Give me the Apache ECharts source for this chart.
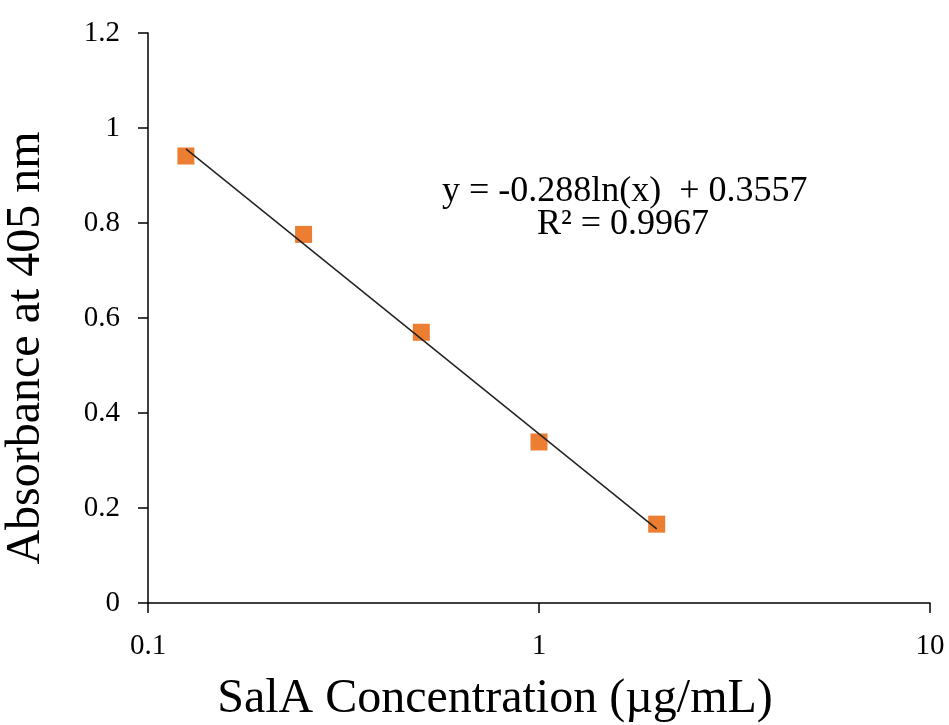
<!DOCTYPE html>
<html>
<head>
	<meta charset="utf-8">
	<title>SalA standard curve</title>
	<style>
		html, body { margin: 0; padding: 0; background: #fff; }
		#container { width: 949px; height: 725px; }
	</style>
</head>
<body>
	<div id="container"></div>
	<script src="https://cdn.jsdelivr.net/npm/echarts@6/dist/echarts.min.js"></script>
	<script type="text/javascript">
		'use strict'

		// measured points (concentration, absorbance)
		var concentration = [0.125, 0.25, 0.5, 1, 2];
		var absorbance = [0.941, 0.776, 0.570, 0.339, 0.166];
		// log trendline end points
		var trendX = [0.125, 2];
		var trendY = [0.956, 0.156];
		var yTicks = [0, 0.2, 0.4, 0.6, 0.8, 1, 1.2];
		var xTicks = [0.1, 1, 10];

		var fontFamily = '"Liberation Serif", "Times New Roman", serif';

		var points = concentration.map(function (c, i) { return [c, absorbance[i]]; });
		var trend = trendX.map(function (c, i) { return [c, trendY[i]]; });

		var myCharts = echarts.init(document.getElementById('container'));
		var option = {
			animation: false,
			backgroundColor: '#fff',
			grid: { left: 148, right: 19, top: 33, bottom: 122, outerBoundsMode: 'none', containLabel: false },
			xAxis: {
				type: 'log',
				logBase: 10,
				min: xTicks[0],
				max: xTicks[xTicks.length - 1],
				name: 'SalA Concentration (µg/mL)',
				nameLocation: 'middle',
				nameGap: 72,
				nameTextStyle: { fontFamily: fontFamily, fontSize: 48, color: '#000', padding: [0, 88, 0, 0] },
				axisLine: { lineStyle: { color: '#000', width: 1.5 } },
				axisTick: { show: true, length: 10, lineStyle: { color: '#000', width: 1.5 } },
				minorTick: { show: false },
				splitLine: { show: false },
				axisLabel: { margin: 29, fontFamily: fontFamily, fontSize: 29, color: '#000' }
			},
			yAxis: {
				type: 'value',
				min: yTicks[0],
				max: yTicks[yTicks.length - 1],
				interval: 0.2,
				name: 'Absorbance at 405 nm',
				nameLocation: 'middle',
				nameGap: 98,
				nameRotate: 90,
				nameTextStyle: { fontFamily: fontFamily, fontSize: 48, color: '#000', padding: [0, 60, 0, 0] },
				axisLine: { show: true, lineStyle: { color: '#000', width: 1.5 } },
				axisTick: { show: true, length: 10, lineStyle: { color: '#000', width: 1.5 } },
				splitLine: { show: false },
				axisLabel: { margin: 28, fontFamily: fontFamily, fontSize: 29, color: '#000' }
			},
			series: [{
					name: 'data',
					type: 'scatter',
					symbol: 'rect',
					symbolSize: 17,
					itemStyle: { color: '#ED7D31', opacity: 1 },
					data: points,
					z: 2
				},
				{
					name: 'trend',
					type: 'line',
					showSymbol: false,
					symbol: 'none',
					lineStyle: { color: '#222', width: 1.5 },
					data: trend,
					z: 3
				}
			],
			graphic: [{
					type: 'text',
					left: 442,
					top: 174,
					style: { text: 'y = -0.288ln(x)  + 0.3557', font: '36px ' + fontFamily, fill: '#000' }
				},
				{
					type: 'text',
					left: 537,
					top: 207,
					style: { text: 'R² = 0.9967', font: '36px ' + fontFamily, fill: '#000' }
				}
			]
		};
		myCharts.setOption(option);
	</script>
</body>
</html>
